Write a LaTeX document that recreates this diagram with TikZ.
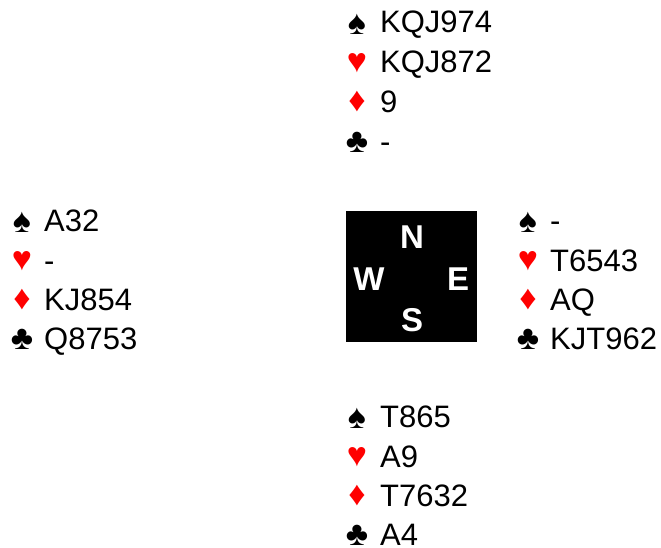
\documentclass[tikz,border=0pt]{standalone}
\usepackage{fontspec}
\setmainfont{Liberation Sans}
\definecolor{suitred}{RGB}{255,0,0}
\begin{document}
\begin{tikzpicture}[x=1pt,y=1pt,yscale=-1,xscale=1,
    cards/.style={anchor=base west,inner sep=0pt,font=\fontsize{31}{31}\selectfont},
    suit/.style={anchor=center,inner sep=0pt,font=\fontsize{34}{34}\selectfont},
    redsuit/.style={suit,text=suitred},
    compass/.style={anchor=center,inner sep=0pt,text=white,font=\fontsize{33}{33}\selectfont\bfseries}]
\useasboundingbox (0,0) rectangle (661,548);

% North hand
\node [suit]    (nS) at (357,24)  {♠};
\node [cards]   (nSc) at (380,33)  {KQJ974};
\node [redsuit] (nH) at (357,63)  {♥};
\node [cards]   (nHc) at (380,73)  {KQJ872};
\node [redsuit] (nD) at (357,102) {♦};
\node [cards]   (nDc) at (380,113) {9};
\node [suit]    (nC) at (357,142) {♣};
\node [cards]   (nCc) at (380,153) {-};

% West hand
\node [suit]    (wS) at (22,222)  {♠};
\node [cards]   (wSc) at (44,231)  {A32};
\node [redsuit] (wH) at (22,261)  {♥};
\node [cards]   (wHc) at (44,271)  {-};
\node [redsuit] (wD) at (22,300)  {♦};
\node [cards]   (wDc) at (44,310)  {KJ854};
\node [suit]    (wC) at (22,339)  {♣};
\node [cards]   (wCc) at (44,349)  {Q8753};

% East hand
\node [suit]    (eS) at (528,222) {♠};
\node [cards]   (eSc) at (550,231) {-};
\node [redsuit] (eH) at (528,261) {♥};
\node [cards]   (eHc) at (550,271) {T6543};
\node [redsuit] (eD) at (528,300) {♦};
\node [cards]   (eDc) at (550,310) {AQ};
\node [suit]    (eC) at (528,339) {♣};
\node [cards]   (eCc) at (550,349) {KJT962};

% South hand
\node [suit]    (sS) at (357,418) {♠};
\node [cards]   (sSc) at (380,427) {T865};
\node [redsuit] (sH) at (357,457) {♥};
\node [cards]   (sHc) at (380,467) {A9};
\node [redsuit] (sD) at (357,496) {♦};
\node [cards]   (sDc) at (380,506) {T7632};
\node [suit]    (sC) at (357,535) {♣};
\node [cards]   (sCc) at (380,545) {A4};

% Compass
\fill [black] (346,211) rectangle (477,342);
\node [compass] (cN) at (412,237) {N};
\node [compass] (cW) at (369,279) {W};
\node [compass] (cE) at (458,279) {E};
\node [compass] (cS) at (412,320) {S};
\end{tikzpicture}
\end{document}
